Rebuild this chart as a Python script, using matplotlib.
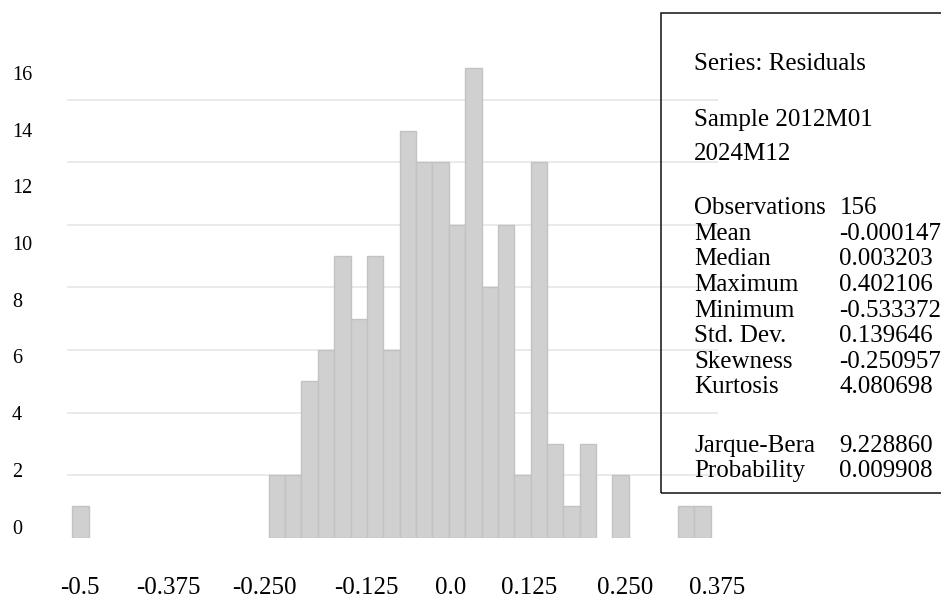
import numpy as np
import matplotlib
matplotlib.use("Agg")
import matplotlib.pyplot as plt
from matplotlib.patches import Rectangle

# ---------------- data ----------------
counts = [1, 0, 0, 0, 0, 0, 0, 0, 0, 0, 0, 0,
          2, 2, 5, 6, 9, 7, 9, 6, 13, 12, 12, 10, 15, 8, 10, 2, 12, 3, 1, 3,
          0, 2, 0, 0, 0, 1, 1]
x_min = -0.533372
x_max = 0.402106
x_tick_labels = ["-0.5", "-0.375", "-0.250", "-0.125", "0.0", "0.125", "0.250", "0.375"]
y_tick_labels = ["0", "2", "4", "6", "8", "10", "12", "14", "16"]
grid_values = [2, 4, 6, 8, 10, 12, 14]

stats_header = ["Series: Residuals", "Sample 2012M01", "2024M12"]
stats_names = ["Observations", "Mean", "Median", "Maximum", "Minimum",
               "Std. Dev.", "Skewness", "Kurtosis"]
stats_values = ["156", "-0.000147", "0.003203", "0.402106", "-0.533372",
                "0.139646", "-0.250957", "4.080698"]
test_names = ["Jarque-Bera", "Probability"]
test_values = ["9.228860", "0.009908"]

# ---------------- layout ----------------
W, H = 941, 603
SERIF = ["Liberation Serif", "DejaVu Serif"]
fig = plt.figure(figsize=(W / 100, H / 100), dpi=100)

def fx(px):
    return px / W

def fy(py):
    return 1 - py / H

ax_left, ax_right, ax_bottom, ax_top = 67, 718, 537.7, 13.3
ax = fig.add_axes([fx(ax_left), fy(ax_bottom), fx(ax_right) - fx(ax_left),
                   (ax_bottom - ax_top) / H])

bar_left_px, bar_right_px = 72.3, 710.7
unit_per_px = (x_max - x_min) / (bar_right_px - bar_left_px)
px_per_count = 31.3

ax.set_xlim(x_min - (bar_left_px - ax_left) * unit_per_px,
            x_min + (ax_right - bar_left_px) * unit_per_px)
ax.set_ylim(0, (ax_bottom - ax_top) / px_per_count)

edges = np.linspace(x_min, x_max, len(counts) + 1)
width = edges[1] - edges[0]
cnt = np.array(counts, dtype=float)
mask = cnt > 0
ax.bar(edges[:-1][mask], cnt[mask], width=width, align="edge",
       color="#d0d0d0", edgecolor="#c2c2c2", linewidth=1.0, zorder=2)

for g in grid_values:
    ax.axhline(g, color="#e8e8e8", linewidth=1.3, zorder=1)

for s in ax.spines.values():
    s.set_visible(False)

# x tick labels (positions in pixels of the reference, converted to data)
xtick_px = [80, 168.8, 264.7, 366.7, 450.8, 529.5, 625, 716.7]
xtick_pos = [x_min + (p - bar_left_px) * unit_per_px for p in xtick_px]
ax.set_xticks(xtick_pos, x_tick_labels, va="baseline", ha="center",
              fontsize=18, family=SERIF)
ax.tick_params(axis="x", length=0, pad=(594 - ax_bottom) * 0.72)

# y tick labels (misaligned in the reference, placed by pixel)
ytick_py = [533.5 - i * 56.7 for i in range(len(y_tick_labels))]
ytick_pos = [(ax_bottom - p) / px_per_count for p in ytick_py]
ax.set_yticks(ytick_pos, y_tick_labels, va="baseline", ha="left",
              fontsize=14.5, family=SERIF)
ax.tick_params(axis="y", length=0, pad=(ax_left - 12) * 0.72)

# stats box
fig.patches.append(Rectangle((fx(660.7), fy(493.3)), fx(1000) - fx(660.7),
                             (493.3 - 13.3) / H, transform=fig.transFigure,
                             fill=False, edgecolor="#111111", linewidth=1.1,
                             zorder=5))

col1, col2 = 694.3, 839.5
fs = 18
header_py = [70, 125.6, 160]
for t, py in zip(stats_header, header_py):
    fig.text(fx(col1), fy(py), t, fontsize=fs, family=SERIF, va="baseline")
for i, (n, v) in enumerate(zip(stats_names, stats_values)):
    py = 214.3 + i * 25.57
    fig.text(fx(col1), fy(py), n, fontsize=fs, family=SERIF, va="baseline")
    fig.text(fx(col2), fy(py), v, fontsize=fs, family=SERIF, va="baseline")
for i, (n, v) in enumerate(zip(test_names, test_values)):
    py = 451.8 + i * 25
    fig.text(fx(col1), fy(py), n, fontsize=fs, family=SERIF, va="baseline")
    fig.text(fx(col2), fy(py), v, fontsize=fs, family=SERIF, va="baseline")

fig.savefig("out.png", dpi=100, facecolor="white")
